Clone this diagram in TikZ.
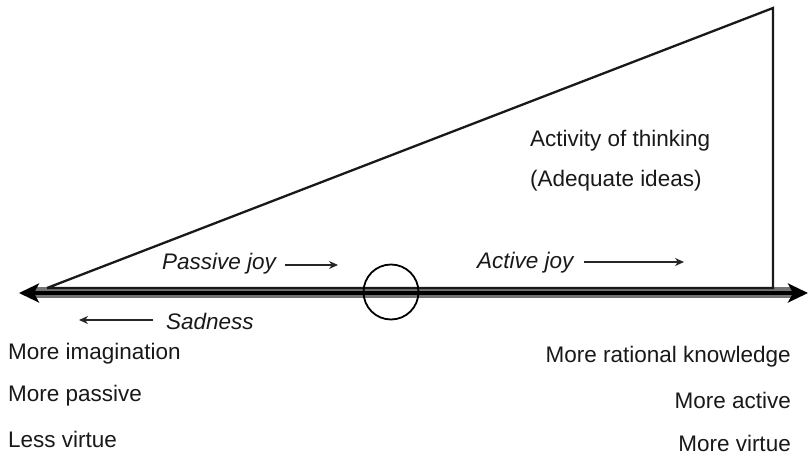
\documentclass[tikz,border=0pt]{standalone}
\usepackage{fontspec}
\setmainfont{Liberation Sans}
\usetikzlibrary{arrows.meta}
\begin{document}
\begin{tikzpicture}[x=1pt,y=-1pt,
  lbl/.style={inner sep=0pt,font=\fontsize{22.5}{26}\selectfont,text=black!90},
  ilbl/.style={lbl,font=\fontsize{22.5}{26}\selectfont\itshape},
  thin arrow/.style={line width=1.4pt,black!85,-{Stealth[length=9pt,width=8pt]}},
  big arrow/.style={line width=3.4pt,black,{Stealth[length=20pt,width=19pt,inset=5pt]}-{Stealth[length=20pt,width=19pt,inset=5pt]}}]
\useasboundingbox (0,0) rectangle (809,458);
% coordinates
\coordinate (L) at (47,288);
\coordinate (T) at (773,8);
\coordinate (B) at (773,288);
\coordinate (axL) at (19,293);
\coordinate (axR) at (808,293);
% band between triangle base and axis
\fill[black!55] (35,286.5) rectangle (792,298);
% triangle
\draw[line width=2.3pt,black!90,line join=miter] (L) -- (T) -- (B) -- (L);
% axis
\draw[big arrow] (axL) -- (axR);
% circle
\node[draw,circle,line width=1.8pt,minimum size=55pt,inner sep=0pt] (c) at (391,292) {};
% labels
\node[lbl,anchor=west] (act) at (530,141) {Activity of thinking};
\node[lbl,anchor=west] (adq) at (530,181) {(Adequate ideas)};
\node[ilbl,anchor=west] (pj) at (162,264) {Passive joy};
\node[ilbl,anchor=west] (aj) at (477,263) {Active joy};
\node[ilbl,anchor=west] (sad) at (166,321) {Sadness};
\coordinate (pjE) at (338,265);
\coordinate (ajE) at (684,262);
\coordinate (sadE) at (79,320);
\draw[thin arrow] ([xshift=9pt]pj.east |- pjE) -- (pjE);
\draw[thin arrow] ([xshift=10pt]aj.east |- ajE) -- (ajE);
\draw[thin arrow] ([xshift=-13pt]sad.west |- sadE) -- (sadE);
\node[lbl,anchor=west] (mi) at (8,354) {More imagination};
\node[lbl,anchor=west] (mp) at (8,396) {More passive};
\node[lbl,anchor=west] (lv) at (8,439) {Less virtue};
\node[lbl,anchor=east] (mr) at (791,357) {More rational knowledge};
\node[lbl,anchor=east] (ma) at (791,400) {More active};
\node[lbl,anchor=east] (mv) at (791,443) {More virtue};
\end{tikzpicture}
\end{document}
